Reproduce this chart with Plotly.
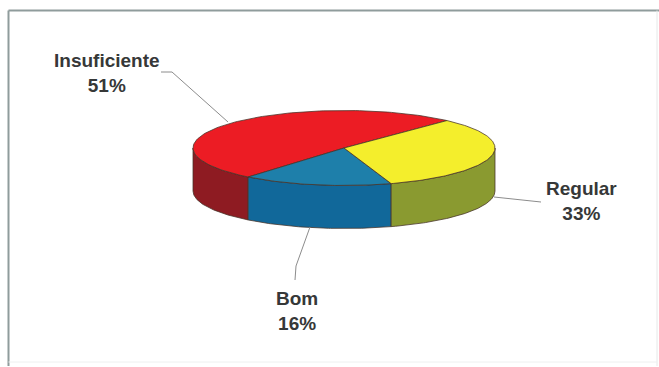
import numpy as np
import plotly.graph_objects as go

# ---- data (counter-clockwise order starting at the start angle) ----
categories = ["Insuficiente", "Bom", "Regular"]
values = [51, 16, 33]
top_colors = ["#EC1C24", "#1E7FAA", "#F4EE2C"]
side_colors = ["#8E1B22", "#11689A", "#8A9A30"]

# ---- geometry / style (layout, not data) ----
W, H = 659, 367
cx, cy = 344, 148
rx, ry = 151, 37.5
depth = 43
start_deg = 47
edge = "rgba(70,50,40,0.85)"

label_pos = {
    "Insuficiente": (107, 73),
    "Bom": (297, 311),
    "Regular": (581, 201),
}
leaders = {
    "Insuficiente": ([161, 172, 228], [72, 72, 122]),
    "Bom": ([295, 296, 310], [280, 266, 227]),
    "Regular": ([541, 494], [202, 197]),
}

fig = go.Figure()

total = float(sum(values))
angles = []
a = start_deg
for v in values:
    b = a + 360.0 * v / total
    angles.append((a, b))
    a = b


def pt(theta_deg, dy=0.0):
    t = np.radians(theta_deg)
    return cx + rx * np.cos(t), cy - ry * np.sin(t) + dy


# side walls (front half only: 180..360 deg, modulo 360)
for (a, b), col in zip(angles, side_colors):
    for shift in (0, 360, -360):
        lo = max(a + shift, 180)
        hi = min(b + shift, 360)
        if hi > lo:
            th = np.linspace(lo, hi, 80)
            xt, yt = pt(th)
            xb, yb = pt(th[::-1], depth)
            xs = np.concatenate([xt, xb, xt[:1]])
            ys = np.concatenate([yt, yb, yt[:1]])
            fig.add_trace(go.Scatter(x=xs, y=ys, mode="lines", fill="toself",
                                     fillcolor=col, line=dict(color=edge, width=0.9),
                                     hoverinfo="skip", showlegend=False))

# top faces
for (a, b), col in zip(angles, top_colors):
    th = np.linspace(a, b, 120)
    xa, ya = pt(th)
    xs = np.concatenate([[cx], xa, [cx]])
    ys = np.concatenate([[cy], ya, [cy]])
    fig.add_trace(go.Scatter(x=xs, y=ys, mode="lines", fill="toself",
                             fillcolor=col, line=dict(color=edge, width=0.9),
                             hoverinfo="skip", showlegend=False))

# leader lines
for cat in categories:
    lx, ly = leaders[cat]
    fig.add_trace(go.Scatter(x=lx, y=ly, mode="lines",
                             line=dict(color="#8C8C8C", width=1),
                             hoverinfo="skip", showlegend=False))

# labels
for cat, v in zip(categories, values):
    x, y = label_pos[cat]
    fig.add_annotation(x=x, y=y, xref="x", yref="y", text=f"<b>{cat}<br>{v}%</b>",
                       showarrow=False, align="center",
                       font=dict(family="Liberation Sans, Arial, sans-serif", size=19,
                                 color="#363838"))

# frame
fig.add_shape(type="line", x0=8.5, x1=8.5, y0=10.5, y1=366, xref="x", yref="y",
              line=dict(color="#8F9C9C", width=2))
fig.add_shape(type="line", x0=8.5, x1=659, y0=10.5, y1=10.5, xref="x", yref="y",
              line=dict(color="#8F9C9C", width=2))
fig.add_shape(type="line", x0=657, x1=657, y0=10.5, y1=366, xref="x", yref="y",
              line=dict(color="#E6E8E8", width=1))
fig.add_shape(type="line", x0=8.5, x1=657, y0=362, y1=362, xref="x", yref="y",
              line=dict(color="#EEF0F0", width=1))

fig.update_layout(
    width=W, height=H, autosize=False,
    margin=dict(l=0, r=0, t=0, b=0, pad=0),
    paper_bgcolor="white", plot_bgcolor="white",
    xaxis=dict(range=[0, W], visible=False, fixedrange=True),
    yaxis=dict(range=[H, 0], visible=False, fixedrange=True),
    showlegend=False,
)

fig.write_html("out.html")
